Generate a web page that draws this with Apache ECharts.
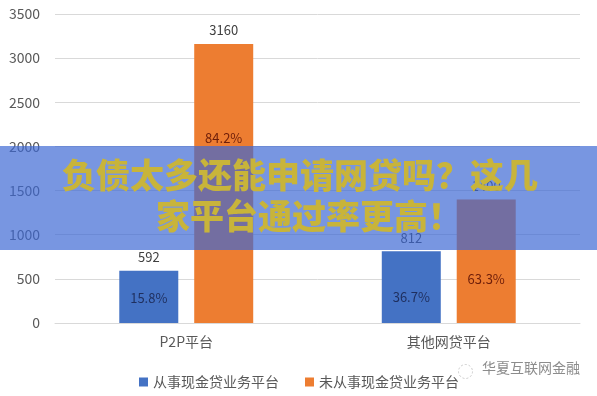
<!DOCTYPE html>
<html>
<head>
<meta charset="utf-8">
<script src="https://cdn.jsdelivr.net/npm/echarts@6/dist/echarts.min.js"></script>
<style>
html,body{margin:0;padding:0;background:#fff;}
#chart{width:597px;height:396px;}
</style>
</head>
<body>
<div id="chart"></div>
<script>
// ---- data ----
var categories = ['P2P平台', '其他网贷平台'];
var seriesNames = ['从事现金贷业务平台', '未从事现金贷业务平台'];
var cashLoanValues = [592, 812];
var nonCashLoanValues = [3160, 1400];
var cashLoanPct = ['15.8%', '36.7%'];
var nonCashLoanPct = ['84.2%', '63.3%'];
var yTicks = [0, 500, 1000, 1500, 2000, 2500, 3000, 3500];
var bannerLines = ['负债太多还能申请网贷吗？这几', '家平台通过率更高！'];
var watermark = '华夏互联网金融';

// ---- styling ----
var FONT = '"Noto Sans CJK SC", "Noto Sans", sans-serif';
var BLUE = '#4472C4', ORANGE = '#ED7D31';
var blueLabelDist = [18, 19];
var orangeLabelDist = [178, 37];

function pctData(values, pcts, dists, color) {
  return values.map(function (v, i) {
    return {
      value: v,
      label: { show: true, position: 'insideBottom', distance: dists[i], formatter: pcts[i], color: color }
    };
  });
}

var chart = echarts.init(document.getElementById('chart'));
var barCommon = { barWidth: 59, barGap: '27%' };
chart.setOption({
  animation: false,
  textStyle: { fontFamily: FONT },
  grid: { left: 55, right: 17, top: 14, bottom: 73, containLabel: false },
  legend: {
    data: seriesNames,
    left: 134, top: 370,
    itemWidth: 9, itemHeight: 9, itemGap: 26,
    icon: 'rect',
    textStyle: { fontSize: 14, color: '#595959', fontFamily: FONT }
  },
  xAxis: [{
    type: 'category', data: categories,
    axisLine: { show: true, lineStyle: { color: '#D9D9D9' } },
    axisTick: { show: false },
    axisLabel: { fontSize: 14, color: '#595959', margin: 12, fontFamily: FONT }
  }, {
    type: 'category', data: categories, show: false
  }],
  yAxis: {
    type: 'value', min: yTicks[0], max: yTicks[yTicks.length - 1], interval: 500,
    axisLine: { show: false }, axisTick: { show: false },
    splitLine: { lineStyle: { color: '#D9D9D9' } },
    axisLabel: { fontSize: 14, color: '#595959', margin: 15, fontFamily: FONT,
      formatter: function (v) { return String(v); } }
  },
  series: [
    Object.assign({
      name: seriesNames[0], type: 'bar', xAxisIndex: 0, data: cashLoanValues,
      itemStyle: { color: BLUE },
      label: { show: true, position: 'top', distance: 7, fontSize: 13, color: '#404040' }
    }, barCommon),
    Object.assign({
      name: seriesNames[1], type: 'bar', xAxisIndex: 0, data: nonCashLoanValues,
      itemStyle: { color: ORANGE },
      label: { show: true, position: 'top', distance: 7, fontSize: 13, color: '#404040' }
    }, barCommon),
    Object.assign({
      name: 'pctA', type: 'bar', xAxisIndex: 1, silent: true,
      data: pctData(cashLoanValues, cashLoanPct, blueLabelDist, '#1F2F5E'),
      itemStyle: { color: 'rgba(0,0,0,0)' },
      label: { fontSize: 13 }
    }, barCommon),
    Object.assign({
      name: 'pctB', type: 'bar', xAxisIndex: 1, silent: true,
      data: pctData(nonCashLoanValues, nonCashLoanPct, orangeLabelDist, '#6E1E0A'),
      itemStyle: { color: 'rgba(0,0,0,0)' },
      label: { fontSize: 13 }
    }, barCommon)
  ],
  graphic: [
    { type: 'rect', left: 0, top: 146, z: 100, shape: { width: 597, height: 104 },
      style: { fill: 'rgba(59,103,212,0.69)' } },
    { type: 'text', left: 62, top: 158, z: 101,
      style: { text: bannerLines[0], font: '900 34px ' + FONT, fill: '#C8B43A' } },
    { type: 'text', left: 156, top: 199, z: 101,
      style: { text: bannerLines[1], font: '900 34px ' + FONT, fill: '#C8B43A' } },
    { type: 'circle', left: 456, top: 362, z: 50, shape: { r: 7 },
      style: { fill: 'none', stroke: '#C8C8C8', lineWidth: 1, lineDash: [2, 2] } },
    { type: 'text', left: 482, top: 361, z: 50,
      style: { text: watermark, font: '14px ' + FONT, fill: '#8C8C8C' } }
  ]
});
</script>
</body>
</html>
